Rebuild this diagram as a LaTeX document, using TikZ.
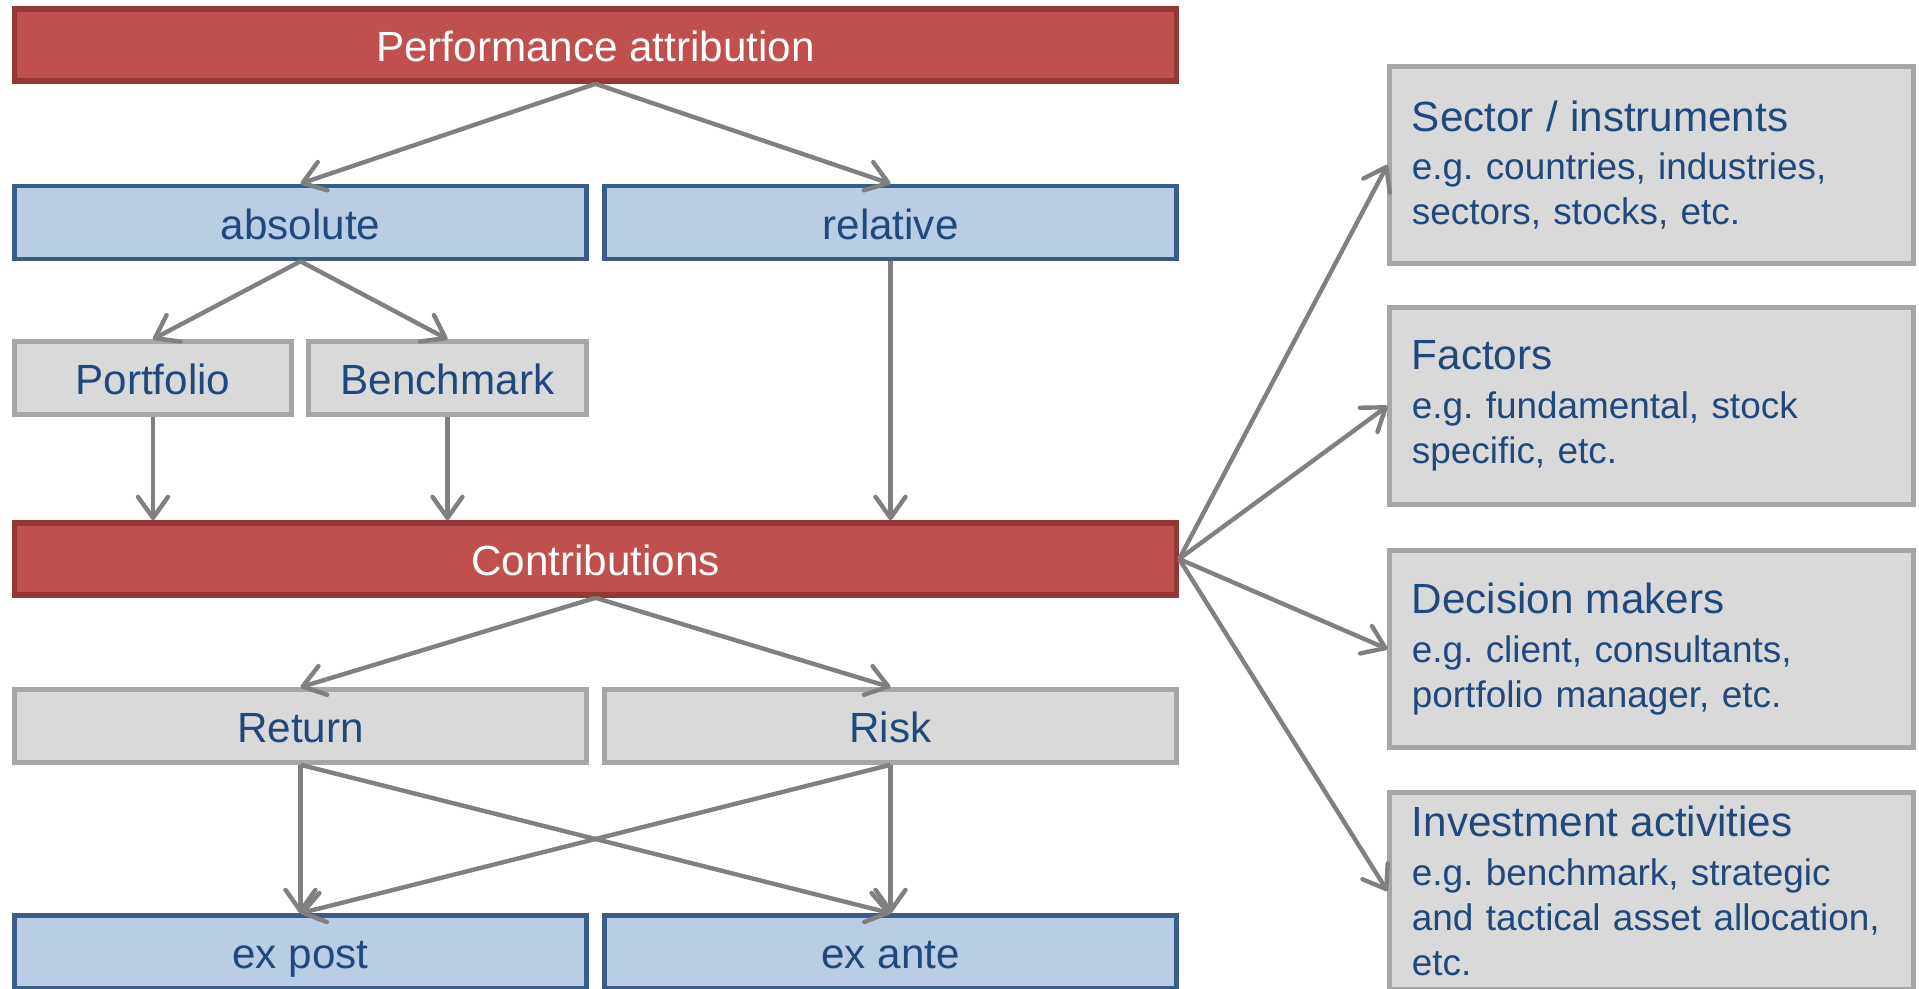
\documentclass[tikz,border=0pt]{standalone}
\usepackage{fontspec}
\setmainfont{Liberation Sans}
\usetikzlibrary{arrows.meta}
\frenchspacing
\definecolor{rfill}{HTML}{C0504D}
\definecolor{rline}{HTML}{953735}
\definecolor{bfill}{HTML}{B9CDE5}
\definecolor{bline}{HTML}{385D8A}
\definecolor{gfill}{HTML}{D9D9D9}
\definecolor{gline}{HTML}{A6A6A6}
\definecolor{txt}{HTML}{1F497D}
\definecolor{arrgray}{HTML}{808080}
\tikzset{
	box/.style={rectangle, inner sep=0pt, text=txt, font=\fontsize{12}{14}\selectfont,
		text height=10pt, text depth=0.4pt},
	rbox/.style={box, fill=rfill, draw=rline, line width=1.6pt, text=white, minimum height=0.72cm},
	bbox/.style={box, fill=bfill, draw=bline, line width=1.3pt, minimum height=0.73cm},
	gbox/.style={box, fill=gfill, draw=gline, line width=1.3pt, minimum height=0.73cm},
	ibox/.style={gbox, align=left, text width=4.79cm, inner xsep=6.3pt, minimum height=1.97cm,
		text height=, text depth=, font=\fontsize{10.5}{12.8}\selectfont},
	con/.style={draw=arrgray, line width=1.25pt, -{Straight Barb[length=6pt,width=8.5pt,round]}},
}
\newcommand{\ititle}[1]{{\fontsize{12}{14}\selectfont #1}\\[1pt]}

\begin{document}
\begin{tikzpicture}[x=0.01cm, y=-0.01cm]
	\useasboundingbox (0,0) rectangle (1919,988);
	\clip (0,0) rectangle (1919,988);

	% left column
	\node[rbox, minimum width=11.61cm] (perf) at (595.5,45) {Performance attribution};
	\node[bbox, minimum width=5.72cm] (abs) at (300.5,222.5) {absolute};
	\node[bbox, minimum width=5.72cm] (rel) at (890.5,222.5) {relative};
	\node[gbox, minimum width=2.77cm] (port) at (153,378) {Portfolio};
	\node[gbox, minimum width=2.78cm] (bench) at (447.5,378) {Benchmark};
	\node[rbox, minimum width=11.61cm] (contr) at (595.5,559) {Contributions};
	\node[gbox, minimum width=5.72cm] (ret) at (300.5,726) {Return};
	\node[gbox, minimum width=5.72cm] (risk) at (890.5,726) {Risk};
	\node[bbox, minimum width=5.72cm] (post) at (300.5,952) {ex post};
	\node[bbox, minimum width=5.72cm] (ante) at (890.5,952) {ex ante};

	% right column
	\node[ibox] (sector) at (1651.5,165) {\ititle{Sector / instruments}e.g. countries, industries,\\ sectors, stocks, etc.};
	\node[ibox] (fact) at (1651.5,406) {\ititle{Factors}e.g. fundamental, stock\\ specific, etc.};
	\node[ibox] (decis) at (1651.5,649) {\ititle{Decision makers}e.g. client, consultants,\\ portfolio manager, etc.};
	\node[ibox] (invest) at (1651.5,891) {\ititle{Investment activities}e.g. benchmark, strategic\\ and tactical asset allocation,\\ etc.};

	\draw[con] (perf.south) -- (abs.north);
	\draw[con] (perf.south) -- (rel.north);
	\draw[con] (abs.south) -- (port.north);
	\draw[con] (abs.south) -- (bench.north);
	\draw[con] (port.south) -- (port.south |- contr.north);
	\draw[con] (bench.south) -- (bench.south |- contr.north);
	\draw[con] (rel.south) -- (rel.south |- contr.north);
	\draw[con] (contr.south) -- (ret.north);
	\draw[con] (contr.south) -- (risk.north);
	\draw[con] (ret.south) -- (post.north);
	\draw[con] (ret.south) -- (ante.north);
	\draw[con] (risk.south) -- (post.north);
	\draw[con] (risk.south) -- (ante.north);

	\draw[con] (contr.east) -- (sector.west);
	\draw[con] (contr.east) -- (fact.west);
	\draw[con] (contr.east) -- (decis.west);
	\draw[con] (contr.east) -- (invest.west);
\end{tikzpicture}
\end{document}
